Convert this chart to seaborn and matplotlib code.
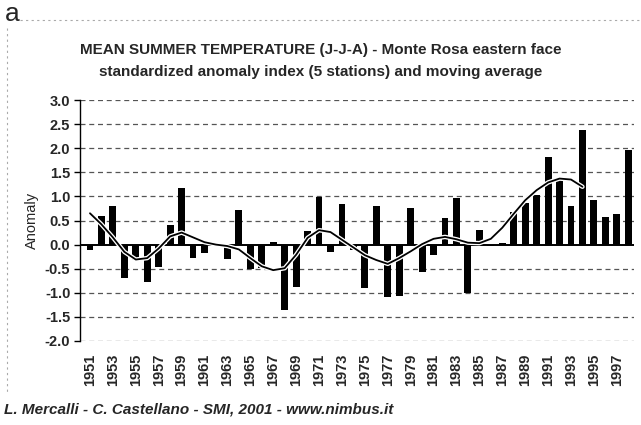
import matplotlib
matplotlib.use("Agg")
import matplotlib.pyplot as plt
import matplotlib.patheffects as pe
from matplotlib.lines import Line2D
import seaborn as sns
import pandas as pd
import numpy as np

years = list(range(1951, 1999))
anomaly = [-0.12, 0.60, 0.80, -0.70, -0.32, -0.77, -0.47, 0.41, 1.18, -0.28,
           -0.17, 0.02, -0.29, 0.71, -0.51, -0.49, 0.05, -1.35, -0.87, 0.29,
           0.99, -0.16, 0.85, -0.12, -0.90, 0.81, -1.08, -1.06, 0.76, -0.56,
           -0.21, 0.55, 0.96, -1.00, 0.31, -0.02, 0.04, 0.68, 0.87, 1.03,
           1.82, 1.35, 0.80, 2.38, 0.92, 0.58, 0.64, 1.96]
ma_years = list(range(1951, 1995))
moving_avg = [0.65, 0.42, 0.15, -0.15, -0.31, -0.28, -0.08, 0.17, 0.25, 0.15,
              0.05, 0.00, -0.03, -0.10, -0.28, -0.45, -0.53, -0.49, -0.21, 0.14,
              0.30, 0.26, 0.10, -0.06, -0.22, -0.32, -0.40, -0.28, -0.14, 0.01,
              0.12, 0.16, 0.11, 0.04, 0.03, 0.12, 0.35, 0.64, 0.92, 1.13,
              1.29, 1.37, 1.35, 1.20]

title_lines = ["MEAN SUMMER TEMPERATURE (J-J-A) - Monte Rosa eastern face",
               "standardized anomaly index (5 stations) and moving average"]
footer = "L. Mercalli - C. Castellano - SMI, 2001 - www.nimbus.it"
y_ticks = [3.0, 2.5, 2.0, 1.5, 1.0, 0.5, 0.0, -0.5, -1.0, -1.5, -2.0]
x_ticks = list(range(1951, 1999, 2))

sns.set_theme(style="white")
plt.rcParams['font.family'] = ['Liberation Sans', 'DejaVu Sans']

df = pd.DataFrame({"year": years, "anomaly": anomaly})
dma = pd.DataFrame({"year": ma_years, "ma": moving_avg})

fig = plt.figure(figsize=(6.41, 4.25), dpi=100)
ax = fig.add_axes([80/641, 1-341/425, (634-80)/641, (341-100)/425])

for yv in y_ticks:
    if yv != 0:
        ax.axhline(yv, color='#555555', lw=0.9, ls=(0, (4, 3)), zorder=0)

sns.barplot(data=df, x="year", y="anomaly", native_scale=True, color='black',
            width=0.6, saturation=1, ax=ax, zorder=2)
for p in ax.patches:
    p.set_edgecolor('black')
    p.set_linewidth(0)

ax.axhline(0, color='black', lw=1.4, zorder=3)

sns.lineplot(data=dma, x="year", y="ma", color='black', lw=1.3, ax=ax, zorder=4,
             path_effects=[pe.Stroke(linewidth=3.2, foreground='white'), pe.Normal()])

ax.set_xlim(1950.13, 1998.5)
ax.set_ylim(-2.0, 3.0)
ax.set_yticks(y_ticks)
ax.set_yticklabels([f"{v:.1f}" for v in y_ticks], fontsize=10.5, fontweight='bold')
ax.set_xticks(x_ticks)
ax.set_xticklabels([str(v) for v in x_ticks], rotation=90, fontsize=10.5, fontweight='bold')
ax.tick_params(axis='x', length=0, pad=9)
ax.tick_params(axis='y', length=4, width=1, color='black', left=True, pad=3)
ax.set_xlabel("")
ax.set_ylabel("Anomaly", fontsize=10.5, labelpad=4)
for s in ['top', 'right', 'bottom']:
    ax.spines[s].set_visible(False)
ax.spines['left'].set_color('black')
ax.spines['left'].set_linewidth(1.0)

fig.text(321/641, 1-50/425, title_lines[0], ha='center', va='center', fontsize=11, fontweight='bold')
fig.text(321/641, 1-72/425, title_lines[1], ha='center', va='center', fontsize=11, fontweight='bold')
fig.text(5/641, 1-14/425, "a", ha='left', va='center', fontsize=19)
fig.text(4/641, 1-410/425, footer, ha='left', va='center', fontsize=11,
         fontweight='bold', fontstyle='italic')

fig.add_artist(Line2D([20/641, 1], [1-20/425, 1-20/425], color='#aaaaaa', lw=0.8, ls=(0, (2, 3))))
fig.add_artist(Line2D([7/641, 7/641], [1-28/425, 1-392/425], color='#aaaaaa', lw=0.8, ls=(0, (2, 3))))

fig.savefig("out.png", dpi=100)
